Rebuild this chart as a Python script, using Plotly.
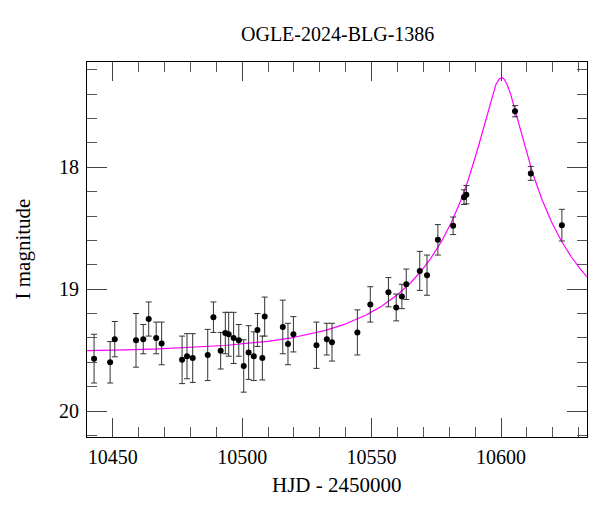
import numpy as np
import plotly.graph_objects as go

# Observations (HJD - 2450000, I magnitude, error)
hjd = [10442.8, 10449.0, 10450.8, 10459.0, 10461.8, 10463.9, 10466.8, 10468.9,
       10476.8, 10478.7, 10480.9, 10486.7, 10488.9, 10491.7, 10493.5, 10494.8,
       10496.7, 10498.7, 10500.6, 10502.5, 10504.5, 10505.9, 10507.8, 10508.7,
       10515.7, 10517.7, 10519.8, 10528.7, 10532.7, 10534.7, 10544.5, 10549.5,
       10556.5, 10559.5, 10561.7, 10563.4, 10568.6, 10571.4, 10575.6, 10581.5,
       10585.7, 10586.6, 10605.4, 10611.5, 10623.5]
mag = [19.57, 19.60, 19.41, 19.42, 19.41, 19.245, 19.40, 19.445,
       19.58, 19.55, 19.565, 19.54, 19.23, 19.505, 19.36, 19.37,
       19.40, 19.42, 19.63, 19.52, 19.55, 19.335, 19.565, 19.225,
       19.31, 19.45, 19.37, 19.46, 19.41, 19.435, 19.355, 19.125,
       19.025, 19.15, 19.06, 18.96, 18.85, 18.885, 18.595, 18.48,
       18.245, 18.225, 17.54, 18.05, 18.475]
err = [0.20, 0.17, 0.145, 0.22, 0.12, 0.14, 0.13, 0.175,
       0.195, 0.185, 0.20, 0.21, 0.125, 0.15, 0.17, 0.18,
       0.21, 0.13, 0.215, 0.22, 0.20, 0.135, 0.18, 0.16,
       0.22, 0.17, 0.145, 0.19, 0.13, 0.155, 0.185, 0.145,
       0.12, 0.11, 0.10, 0.125, 0.16, 0.165, 0.125, 0.072,
       0.06, 0.075, 0.046, 0.057, 0.13]

# PSPL model parameters
t0 = 10600.2
tE = 51.7
u0 = 0.126
I0 = 19.52
fs = 1.0

x_range = [10440.07, 10633.2]
y_range = [20.213, 17.136]

tm = np.linspace(x_range[0], x_range[1], 2000)
u = np.sqrt(u0**2 + ((tm - t0) / tE) ** 2)
A = (u**2 + 2) / (u * np.sqrt(u**2 + 4))
Im = I0 - 2.5 * np.log10(fs * A + 1 - fs)

FONT = "Liberation Serif"

fig = go.Figure()
fig.add_trace(go.Scatter(x=tm, y=Im, mode="lines",
                         line=dict(color="#ff00ff", width=1.2),
                         hoverinfo="skip", showlegend=False))
fig.add_trace(go.Scatter(x=hjd, y=mag, mode="markers",
                         marker=dict(color="black", size=6),
                         error_y=dict(type="data", array=err, visible=True,
                                      color="#333333", thickness=1, width=3),
                         showlegend=False))

axis_common = dict(showgrid=False, zeroline=False, showline=True, linecolor="black",
                   linewidth=1, mirror="allticks", ticks="inside", tickcolor="#444444",
                   tickwidth=1, tickfont=dict(family=FONT, size=20, color="black"))

fig.update_xaxes(range=x_range, tick0=10450, dtick=50, ticklen=19, tickformat="d",
                 minor=dict(ticks="inside", ticklen=10, dtick=10, tick0=10450,
                            tickcolor="#555555", tickwidth=1, showgrid=False),
                 ticklabelstandoff=2, **axis_common)
fig.update_yaxes(range=y_range, tick0=18, dtick=1, ticklen=20, tickformat="d",
                 minor=dict(ticks="inside", ticklen=10, dtick=0.2, tick0=18,
                            tickcolor="#555555", tickwidth=1, showgrid=False),
                 ticklabelstandoff=3, **axis_common)

fig.update_layout(
    width=600, height=512,
    margin=dict(l=87, r=13, t=62, b=75),
    paper_bgcolor="white", plot_bgcolor="white",
    font=dict(family=FONT, size=20, color="black"),
    annotations=[
        dict(text="OGLE-2024-BLG-1386", xref="paper", yref="paper", x=0.5, y=1.075,
             xanchor="center", yanchor="middle", showarrow=False,
             font=dict(family=FONT, size=20, color="black")),
        dict(text="HJD - 2450000", xref="paper", yref="paper", x=0.5, y=-0.127,
             xanchor="center", yanchor="middle", showarrow=False,
             font=dict(family=FONT, size=21, color="black")),
        dict(text="I magnitude", xref="paper", yref="paper", x=-0.13, y=0.5,
             xanchor="center", yanchor="middle", textangle=-90, showarrow=False,
             font=dict(family=FONT, size=21, color="black")),
    ],
)

fig.write_html("out.html")
